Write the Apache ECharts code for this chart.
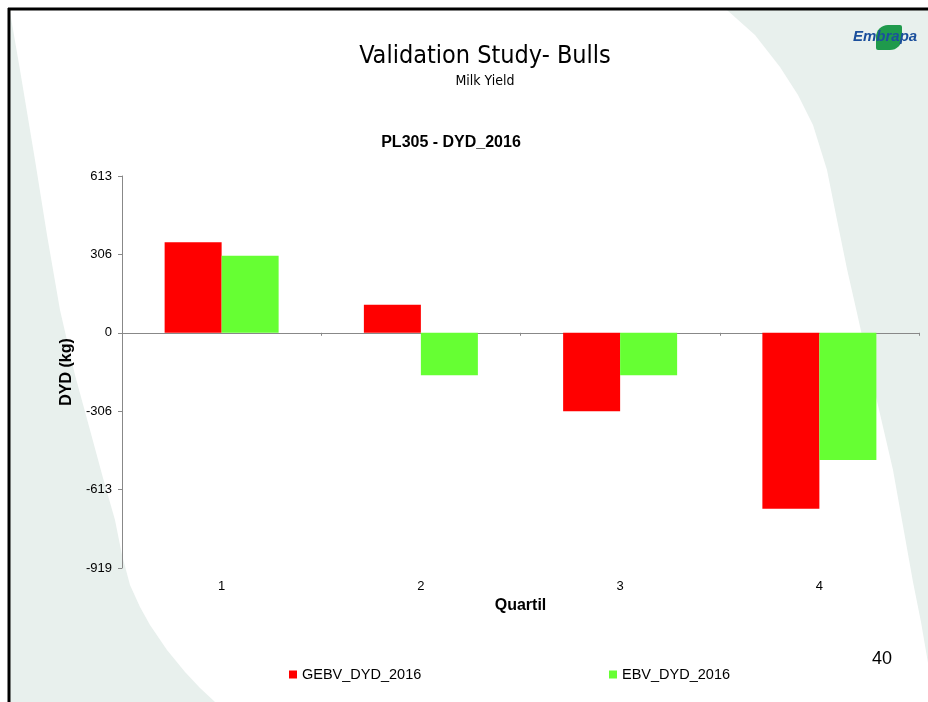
<!DOCTYPE html>
<html>
<head>
<meta charset="utf-8">
<title>Validation Study- Bulls</title>
<script src="https://cdn.jsdelivr.net/npm/echarts@6/dist/echarts.min.js"></script>
<style>
  html, body { margin: 0; padding: 0; background: #fff; }
  #chart { width: 928px; height: 702px; }
</style>
</head>
<body>
<div id="chart"></div>
<script>
  // data
  const quartiles = ['1', '2', '3', '4']
  const gebv = [354, 110, -307, -688]
  const ebv = [301, -166, -166, -497]
  const yTickLabels = ['-919', '-613', '-306', '0', '306', '613']
  const seriesNames = ['GEBV_DYD_2016', 'EBV_DYD_2016']

  const font = 'Liberation Sans, Arial, sans-serif'
  const bgShape = '#e8f0ed'

  let chart = echarts.init(document.getElementById('chart'))
  chart.setOption({
    backgroundColor: '#fff',
    title: [{
      text: 'Validation Study- Bulls',
      left: 480, top: 39, textAlign: 'center',
      textStyle: { fontFamily: 'DejaVu Sans Condensed, sans-serif', fontSize: 25, fontWeight: 'normal', color: '#000' }
    }, {
      text: 'Milk Yield',
      left: 480, top: 69, textAlign: 'center',
      textStyle: { fontFamily: 'DejaVu Sans Condensed, sans-serif', fontSize: 14, fontWeight: 'normal', color: '#000' }
    }, {
      text: 'PL305 - DYD_2016',
      left: 446, top: 130, textAlign: 'center',
      textStyle: { fontFamily: font, fontSize: 16, fontWeight: 'bold', color: '#000' }
    }],
    // slide decoration
    graphic: [
      {
        type: 'polygon', z: -10, silent: true,
        shape: { points: [[10, 12], [20, 70], [35, 160], [47, 235], [60, 310], [75, 375], [90, 430], [103, 478], [115, 520], [122, 555], [130, 585], [140, 607], [150, 625], [167, 650], [185, 672], [200, 688], [215, 702], [10, 702]] },
        style: { fill: bgShape }
      },
      {
        type: 'polygon', z: -10, silent: true,
        shape: { points: [[727, 10], [755, 35], [780, 67], [798, 95], [813, 125], [827, 170], [837, 220], [847, 269], [857, 313], [867, 358], [880, 414], [893, 470], [903, 526], [913, 582], [921, 622], [928, 663], [928, 10]] },
        style: { fill: bgShape }
      },
      { type: 'line', z: 10, silent: true, shape: { x1: 8, y1: 9, x2: 928, y2: 9 }, style: { stroke: '#000', lineWidth: 3 } },
      { type: 'line', z: 10, silent: true, shape: { x1: 9, y1: 8, x2: 9, y2: 702 }, style: { stroke: '#000', lineWidth: 3 } },
      {
        type: 'group', z: 5, silent: true,
        children: [
          { type: 'rect', shape: { x: 876, y: 25, width: 26, height: 25, r: [12, 2, 12, 2] }, style: { fill: '#1f9a4c' }, z2: 1 },
          {
            type: 'text', x: 853, y: 37, z2: 2,
            style: { text: 'Embrapa', fill: '#1b4f9c', font: 'italic bold 15px Liberation Sans, Arial, sans-serif', textVerticalAlign: 'middle' }
          }
        ]
      },
      {
        type: 'text', z: 6, silent: true, x: 872, y: 659,
        style: { text: '40', fill: '#000', font: '18px Liberation Sans, Arial, sans-serif', textVerticalAlign: 'middle' }
      }
    ],
    color: ['#ff0000', '#66ff33'],
    legend: [{
      data: [seriesNames[0]], left: 284, top: 662, padding: 5,
      icon: 'rect', itemWidth: 8, itemHeight: 8,
      textStyle: { fontFamily: font, fontSize: 14.5, color: '#000' }
    }, {
      data: [seriesNames[1]], left: 604, top: 662, padding: 5,
      icon: 'rect', itemWidth: 8, itemHeight: 8,
      textStyle: { fontFamily: font, fontSize: 14.5, color: '#000' }
    }],
    grid: { left: 122, right: 9, top: 176, bottom: 134 },
    xAxis: [{
      // line crossing at zero
      type: 'category',
      data: quartiles,
      axisLine: { onZero: true, lineStyle: { color: '#888', width: 1 } },
      axisTick: { show: true, length: 3, lineStyle: { color: '#888' } },
      axisLabel: { show: false }
    }, {
      // labels at the bottom
      type: 'category',
      data: quartiles,
      position: 'bottom',
      axisLine: { show: false, onZero: false },
      axisTick: { show: false },
      axisLabel: { margin: 12, fontFamily: font, fontSize: 13, color: '#000' },
      name: 'Quartil',
      nameLocation: 'middle',
      nameGap: 29,
      nameTextStyle: { fontFamily: font, fontSize: 16, fontWeight: 'bold', color: '#000' }
    }],
    yAxis: {
      type: 'value',
      min: -919.2,
      max: 612.8,
      interval: 306.4,
      name: 'DYD (kg)',
      nameLocation: 'middle',
      nameRotate: 90,
      nameGap: 42,
      nameTextStyle: { fontFamily: font, fontSize: 16, fontWeight: 'bold', color: '#000' },
      axisLine: { show: true, lineStyle: { color: '#888' } },
      axisTick: { show: true, length: 4, lineStyle: { color: '#888' } },
      splitLine: { show: false },
      axisLabel: {
        margin: 10, fontFamily: font, fontSize: 13, color: '#000',
        formatter: function (v, i) { return yTickLabels[i] !== undefined ? yTickLabels[i] : String(Math.round(v)) }
      }
    },
    series: [{
      name: seriesNames[0],
      type: 'bar',
      barWidth: 57,
      barGap: '0%',
      data: gebv,
      itemStyle: { color: '#ff0000' }
    }, {
      name: seriesNames[1],
      type: 'bar',
      barWidth: 57,
      barGap: '0%',
      data: ebv,
      itemStyle: { color: '#66ff33' }
    }]
  })
</script>
</body>
</html>
